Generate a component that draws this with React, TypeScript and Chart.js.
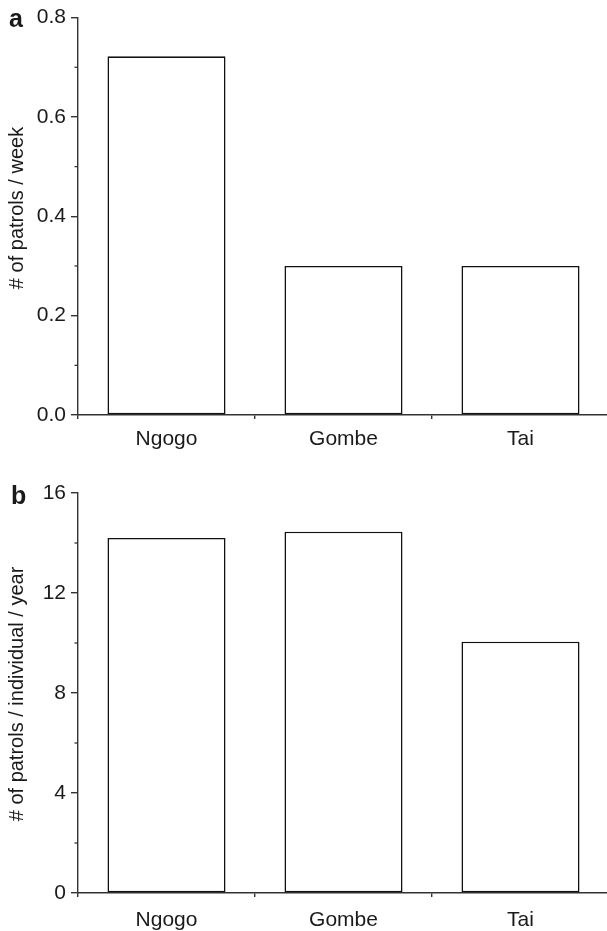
import React, { useEffect, useRef } from "react";
import { Chart, registerables } from "chart.js";

Chart.register(...registerables);

// ---- data ----
const categories = ["Ngogo", "Gombe", "Tai"];
const patrolsPerWeek = [0.722, 0.3, 0.3];
const patrolsPerIndividualPerYear = [14.2, 14.45, 10.05];
const majorTicksA = [0, 0.2, 0.4, 0.6, 0.8];
const minorTicksA = [0.1, 0.3, 0.5, 0.7];
const majorTicksB = [0, 4, 8, 12, 16];
const minorTicksB = [2, 6, 10, 14];
const titleA = "# of patrols / week";
const titleB = "# of patrols / individual / year";

const FONT = '"Liberation Sans", Arial, Helvetica, sans-serif';
const AXIS = "#333333";
const TEXT = "#1a1a1a";

const decorPlugin = {
  id: "decor",
  afterDraw(chart: any, _args: any, opts: any) {
    const ctx = chart.ctx;
    const y = chart.scales.y;
    ctx.save();
    ctx.strokeStyle = AXIS;
    ctx.lineWidth = 1.3;
    for (const v of opts.minors || []) {
      const p = y.getPixelForValue(v);
      ctx.beginPath();
      ctx.moveTo(y.right - 3.5, p);
      ctx.lineTo(y.right, p);
      ctx.stroke();
    }
    ctx.fillStyle = TEXT;
    ctx.font = `bold 25px ${FONT}`;
    ctx.textBaseline = "alphabetic";
    ctx.textAlign = "left";
    ctx.fillText(opts.letter, opts.letterX, opts.letterY);
    // y-axis title
    ctx.translate(17, opts.titleY);
    ctx.rotate(-Math.PI / 2);
    ctx.font = `20px ${FONT}`;
    ctx.textAlign = "center";
    ctx.textBaseline = "middle";
    ctx.fillText(opts.title, 0, 0);
    ctx.restore();
  },
};

function makeConfig(p: any) {
  return {
    type: "bar",
    data: {
      labels: categories,
      datasets: [
        {
          data: p.values,
          backgroundColor: "#ffffff",
          borderColor: "#111111",
          borderWidth: 1.6,
          borderSkipped: false,
          categoryPercentage: 1,
          barPercentage: 0.667,
        },
      ],
    },
    options: {
      animation: false,
      responsive: false,
      devicePixelRatio: 1,
      layout: { padding: { top: p.top, left: 0, right: 0, bottom: 0 } },
      plugins: {
        legend: { display: false },
        tooltip: { enabled: false },
        decor: {
          minors: p.minors,
          letter: p.letter,
          letterX: p.letterX,
          letterY: p.letterY,
          title: p.title,
          titleY: p.titleY,
        },
      },
      scales: {
        x: {
          type: "category",
          offset: true,
          grid: { offset: true, drawOnChartArea: false, tickLength: 4, color: AXIS, lineWidth: 1.4 },
          border: { color: AXIS, width: 1.4 },
          ticks: { color: TEXT, font: { family: FONT, size: 21 }, padding: p.labelPad, maxRotation: 0, autoSkip: false },
          afterFit: (s: any) => {
            s.height = p.xHeight;
          },
        },
        y: {
          min: p.majors[0],
          max: p.majors[p.majors.length - 1],
          afterBuildTicks: (s: any) => {
            s.ticks = p.majors.map((v: number) => ({ value: v }));
          },
          grid: { drawOnChartArea: false, tickLength: 7, color: AXIS, lineWidth: 1.4 },
          border: { color: AXIS, width: 1.4 },
          ticks: {
            color: TEXT,
            font: { family: FONT, size: 21 },
            padding: 5,
            callback: (v: any) => Number(v).toFixed(p.decimals),
          },
          afterFit: (s: any) => {
            s.width = 78;
          },
        },
      },
    },
    plugins: [decorPlugin],
  };
}

function Panel(props: any) {
  const ref = useRef<HTMLCanvasElement | null>(null);
  useEffect(() => {
    if (!ref.current) return;
    const chart = new Chart(ref.current, makeConfig(props.cfg) as any);
    return () => chart.destroy();
  }, []);
  return (
    <canvas
      ref={ref}
      width={609}
      height={props.height}
      style={{ position: "absolute", left: 0, top: props.top, width: 609, height: props.height }}
    />
  );
}

export default function App() {
  return (
    <div
      style={{
        position: "absolute",
        left: 0,
        top: 0,
        width: 607,
        height: 931,
        overflow: "hidden",
        background: "#ffffff",
      }}
    >
      <Panel
        top={0}
        height={460}
        cfg={{
          values: patrolsPerWeek,
          majors: majorTicksA,
          minors: minorTicksA,
          decimals: 1,
          title: titleA,
          titleY: 208,
          letter: "a",
          letterX: 9,
          letterY: 27,
          top: 17,
          xHeight: 45,
          labelPad: 8,
        }}
      />
      <Panel
        top={460}
        height={471}
        cfg={{
          values: patrolsPerIndividualPerYear,
          majors: majorTicksB,
          minors: minorTicksB,
          decimals: 0,
          title: titleB,
          titleY: 234,
          letter: "b",
          letterX: 11,
          letterY: 44,
          top: 33,
          xHeight: 38,
          labelPad: 11,
        }}
      />
    </div>
  );
}
